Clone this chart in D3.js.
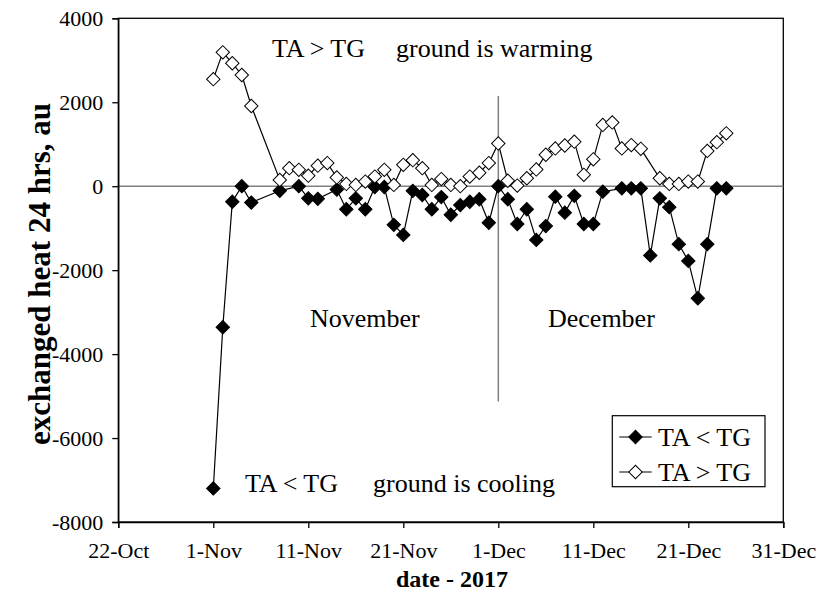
<!DOCTYPE html>
<html>
<head>
<meta charset="utf-8">
<script src="https://d3js.org/d3.v7.min.js"></script>
<style>
  body { margin: 0; background: #fff; }
  svg text { font-family: "Liberation Serif", "Times New Roman", serif; fill: #000; }
</style>
</head>
<body>
<svg id="chart" width="820" height="596"></svg>
<script>
// TA < TG series (filled diamonds)
var coolDates = ["2017-11-01","2017-11-02","2017-11-03","2017-11-04","2017-11-05","2017-11-08","2017-11-10",
  "2017-11-11","2017-11-12","2017-11-14","2017-11-15","2017-11-16","2017-11-17","2017-11-18","2017-11-19",
  "2017-11-20","2017-11-21","2017-11-22","2017-11-23","2017-11-24","2017-11-25","2017-11-26","2017-11-27",
  "2017-11-28","2017-11-29","2017-11-30","2017-12-01","2017-12-02","2017-12-03","2017-12-04","2017-12-05",
  "2017-12-06","2017-12-07","2017-12-08","2017-12-09","2017-12-10","2017-12-11","2017-12-12","2017-12-14",
  "2017-12-15","2017-12-16","2017-12-17","2017-12-18","2017-12-19","2017-12-20","2017-12-21","2017-12-22",
  "2017-12-23","2017-12-24","2017-12-25"];
var coolValues = [-7200,-3360,-370,0,-390,-110,0,
  -290,-300,-80,-550,-290,-550,-20,-20,
  -920,-1160,-110,-210,-550,-260,-680,-450,
  -370,-310,-870,0,-310,-900,-550,-1280,
  -950,-250,-630,-230,-900,-900,-130,-50,
  -50,-50,-1650,-290,-500,-1380,-1780,-2670,
  -1380,-50,-50];

// TA > TG series (hollow diamonds)
var warmDates = ["2017-11-01","2017-11-02","2017-11-03","2017-11-04","2017-11-05","2017-11-08","2017-11-09",
  "2017-11-10","2017-11-11","2017-11-12","2017-11-13","2017-11-14","2017-11-15","2017-11-16","2017-11-17",
  "2017-11-18","2017-11-19","2017-11-20","2017-11-21","2017-11-22","2017-11-23","2017-11-24","2017-11-25",
  "2017-11-26","2017-11-27","2017-11-28","2017-11-29","2017-11-30","2017-12-01","2017-12-02","2017-12-03",
  "2017-12-04","2017-12-05","2017-12-06","2017-12-07","2017-12-08","2017-12-09","2017-12-10","2017-12-11",
  "2017-12-12","2017-12-13","2017-12-14","2017-12-15","2017-12-16","2017-12-18","2017-12-19","2017-12-20",
  "2017-12-21","2017-12-22","2017-12-23","2017-12-24","2017-12-25"];
var warmValues = [2550,3190,2930,2650,1910,150,430,
  390,250,490,550,210,55,30,110,
  230,390,30,510,620,430,30,170,
  30,0,230,320,550,1020,130,15,
  190,400,750,900,970,1060,270,640,
  1460,1520,900,980,890,190,55,55,
  110,110,840,1050,1260];

var xTicks = ["2017-10-22","2017-11-01","2017-11-11","2017-11-21","2017-12-01","2017-12-11","2017-12-21","2017-12-31"];
var yTicks = [-8000,-6000,-4000,-2000,0,2000,4000];

var parse = d3.utcParse("%Y-%m-%d");

var plotLeft = 118.3, plotTop = 18.3, plotW = 665, plotH = 503.7;
var svg = d3.select("#chart");

var x = d3.scaleUtc()
    .domain([parse("2017-10-22"), parse("2017-12-31")])
    .range([plotLeft, plotLeft + plotW]);
var y = d3.scaleLinear()
    .domain([-8000, 4000])
    .range([plotTop + plotH, plotTop]);

// plot frame
svg.append("rect")
    .attr("x", plotLeft).attr("y", plotTop)
    .attr("width", plotW).attr("height", plotH)
    .attr("fill", "none").attr("stroke", "#000").attr("stroke-width", 1.3);

// zero line and 1-Dec divider
svg.append("line")
    .attr("x1", plotLeft).attr("x2", plotLeft + plotW)
    .attr("y1", y(0)).attr("y2", y(0))
    .attr("stroke", "#808080").attr("stroke-width", 1.5);
svg.append("line")
    .attr("x1", x(parse("2017-12-01"))).attr("x2", x(parse("2017-12-01")))
    .attr("y1", y(2150)).attr("y2", y(-5130))
    .attr("stroke", "#808080").attr("stroke-width", 1.5);

// axes
var xAxis = d3.axisBottom(x)
    .tickValues(xTicks.map(parse))
    .tickFormat(d3.utcFormat("%-d-%b"))
    .tickSize(6).tickPadding(14);
var gx = svg.append("g")
    .attr("transform", "translate(0," + (plotTop + plotH) + ")")
    .call(xAxis);

var yAxis = d3.axisLeft(y)
    .tickValues(yTicks)
    .tickFormat(function(d) { return String(d); })
    .tickSize(6).tickPadding(9);
var gy = svg.append("g")
    .attr("transform", "translate(" + plotLeft + ",0)")
    .call(yAxis);

[gx, gy].forEach(function(g) {
    g.select(".domain").attr("stroke", "#000").attr("stroke-width", 1.3);
    g.selectAll(".tick line").attr("stroke", "#000").attr("stroke-width", 1.3);
    g.selectAll(".tick text")
        .attr("fill", "#000")
        .style("font-family", "'Liberation Serif', serif")
        .style("font-size", "22px");
});

// series
var cool = coolDates.map(function(d, i) { return { date: parse(d), value: coolValues[i] }; });
var warm = warmDates.map(function(d, i) { return { date: parse(d), value: warmValues[i] }; });

var line = d3.line()
    .x(function(d) { return x(d.date); })
    .y(function(d) { return y(d.value); });

svg.append("path").datum(cool)
    .attr("d", line).attr("fill", "none").attr("stroke", "#000").attr("stroke-width", 1.2);
svg.append("path").datum(warm)
    .attr("d", line).attr("fill", "none").attr("stroke", "#000").attr("stroke-width", 1.2);

var diamond = d3.symbol().type(d3.symbolSquare).size(90);

svg.append("g").selectAll("path")
    .data(cool).enter().append("path")
    .attr("d", diamond)
    .attr("transform", function(d) { return "translate(" + x(d.date) + "," + y(d.value) + ") rotate(45)"; })
    .attr("fill", "#000").attr("stroke", "#000").attr("stroke-width", 1);

svg.append("g").selectAll("path")
    .data(warm).enter().append("path")
    .attr("d", diamond)
    .attr("transform", function(d) { return "translate(" + x(d.date) + "," + y(d.value) + ") rotate(45)"; })
    .attr("fill", "#fff").attr("stroke", "#000").attr("stroke-width", 1);

// annotations
function note(txt, px, py) {
    svg.append("text").attr("x", px).attr("y", py)
        .style("font-size", "26px").text(txt);
}
note("TA > TG", 272, 57);
note("ground is warming", 396, 57);
note("TA < TG", 245, 492);
note("ground is cooling", 373, 492);
note("November", 310, 327);
note("December", 548, 327);

// axis titles
svg.append("text")
    .attr("transform", "translate(50,274) rotate(-90)")
    .attr("text-anchor", "middle")
    .style("font-size", "31px").style("font-weight", "bold")
    .text("exchanged heat 24 hrs,  au");
svg.append("text")
    .attr("x", 452).attr("y", 587)
    .attr("text-anchor", "middle")
    .style("font-size", "24px").style("font-weight", "bold")
    .text("date - 2017");

// legend
var lg = svg.append("g");
lg.append("rect")
    .attr("x", 612.3).attr("y", 415.7)
    .attr("width", 152.7).attr("height", 71)
    .attr("fill", "#fff").attr("stroke", "#000").attr("stroke-width", 1.2);
var legendItems = [
    { label: "TA < TG", fill: "#000", cy: 437 },
    { label: "TA > TG", fill: "#fff", cy: 472 }
];
legendItems.forEach(function(it) {
    lg.append("line")
        .attr("x1", 619.3).attr("x2", 651.7)
        .attr("y1", it.cy).attr("y2", it.cy)
        .attr("stroke", "#000").attr("stroke-width", 1.2);
    lg.append("path")
        .attr("d", diamond)
        .attr("transform", "translate(635.5," + it.cy + ") rotate(45)")
        .attr("fill", it.fill).attr("stroke", "#000").attr("stroke-width", 1);
    lg.append("text")
        .attr("x", 658).attr("y", it.cy + 9)
        .style("font-size", "26px")
        .text(it.label);
});
</script>
</body>
</html>
